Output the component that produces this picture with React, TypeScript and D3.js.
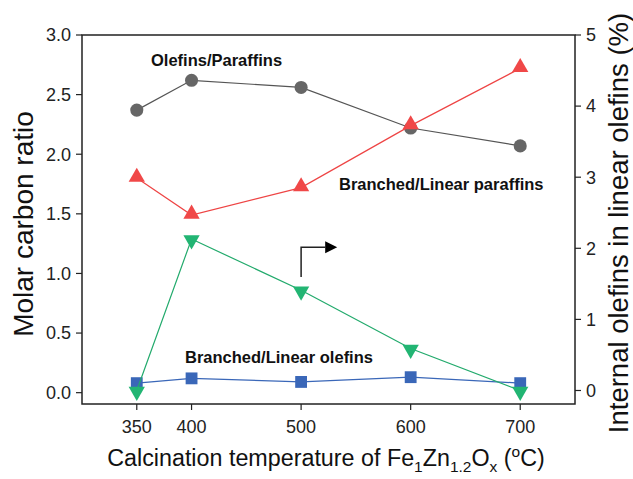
import React, { useEffect } from 'react';
import * as d3 from 'd3';

const temps = [350, 400, 500, 600, 700];
const olefinParaffin = [2.37, 2.62, 2.56, 2.22, 2.07];
const branchedParaffin = [1.8, 1.49, 1.72, 2.24, 2.72];
const branchedOlefin = [0.08, 0.12, 0.09, 0.13, 0.08];
const internalOlefin = [0.0, 2.13, 1.41, 0.59, 0.0];

const xTicks = [350, 400, 500, 600, 700];
const leftTicks = [0, 0.5, 1.0, 1.5, 2.0, 2.5, 3.0];
const rightTicks = [0, 1, 2, 3, 4, 5];

// arrow annotation (x in °C, y in left-axis units)
const arrowPath = [
  [500, 0.97],
  [500, 1.22],
  [522, 1.22],
];

const W = 633;
const H = 479;
const m = { left: 82, right: 575, top: 35, bottom: 404 };
const font = 'Liberation Sans, Arial, sans-serif';

export default function App() {
  useEffect(() => {
    document.body.style.margin = '0';
  }, []);

  const x = d3.scaleLinear().domain([300, 750]).range([m.left, m.right]);
  const yL = d3.scaleLinear().domain([-0.095, 3.0]).range([m.bottom, m.top]);
  const yR = d3.scaleLinear().domain([-0.19, 5]).range([m.bottom, m.top]);

  const lineL = d3
    .line<number>()
    .x((_, i) => x(temps[i]))
    .y((d) => yL(d));
  const lineR = d3
    .line<number>()
    .x((_, i) => x(temps[i]))
    .y((d) => yR(d));

  const circle = d3.symbol().type(d3.symbolCircle).size(135)()!;
  const square = d3.symbol().type(d3.symbolSquare).size(140)()!;
  const tri = d3.symbol().type(d3.symbolTriangle).size(115)()!;

  const arrowLine = d3
    .line<number[]>()
    .x((d) => x(d[0]))
    .y((d) => yL(d[1]));
  const tip = arrowPath[arrowPath.length - 1];
  const tx = x(tip[0]);
  const ty = yL(tip[1]);

  return (
    <svg width={W} height={H} style={{ display: 'block', background: '#fff' }} fontFamily={font}>
      {/* frame */}
      <rect
        x={m.left}
        y={m.top}
        width={m.right - m.left}
        height={m.bottom - m.top}
        fill="none"
        stroke="#222"
        strokeWidth={1.5}
      />

      {/* x axis */}
      {xTicks.map((t) => (
        <g key={t} transform={`translate(${x(t)},${m.bottom})`}>
          <line y2={6} stroke="#222" strokeWidth={1.2} />
          <text y={29} textAnchor="middle" fontSize={18} fill="#222">
            {t}
          </text>
        </g>
      ))}

      {/* left axis */}
      {leftTicks.map((t) => (
        <g key={t} transform={`translate(${m.left},${yL(t)})`}>
          <line x2={-6} stroke="#222" strokeWidth={1.2} />
          <text x={-11} dy="0.35em" textAnchor="end" fontSize={18} fill="#222">
            {t.toFixed(1)}
          </text>
        </g>
      ))}

      {/* right axis */}
      {rightTicks.map((t) => (
        <g key={t} transform={`translate(${m.right},${yR(t)})`}>
          <line x2={6} stroke="#222" strokeWidth={1.2} />
          <text x={11} dy="0.35em" textAnchor="start" fontSize={18} fill="#222">
            {t}
          </text>
        </g>
      ))}

      {/* axis titles */}
      <text
        transform={`translate(33,224) rotate(-90)`}
        textAnchor="middle"
        fontSize={28}
        fill="#111"
      >
        Molar carbon ratio
      </text>
      <text
        transform={`translate(628,223) rotate(-90)`}
        textAnchor="middle"
        fontSize={27.5}
        fill="#111"
      >
        Internal olefins in linear olefins (%)
      </text>
      <text x={326} y={466} textAnchor="middle" fontSize={23.3} fill="#111">
        Calcination temperature of Fe
        <tspan fontSize={15.5} dy={6}>1</tspan>
        <tspan dy={-6}>Zn</tspan>
        <tspan fontSize={15.5} dy={6}>1.2</tspan>
        <tspan dy={-6}>O</tspan>
        <tspan fontSize={15.5} dy={6}>x</tspan>
        <tspan dy={-6}> (</tspan>
        <tspan fontSize={15.5} dy={-9}>o</tspan>
        <tspan dy={9}>C)</tspan>
      </text>

      {/* series */}
      <path d={lineL(olefinParaffin)!} fill="none" stroke="#555" strokeWidth={1.2} />
      {olefinParaffin.map((v, i) => (
        <path key={i} d={circle} transform={`translate(${x(temps[i])},${yL(v)})`} fill="#666" />
      ))}

      <path d={lineL(branchedOlefin)!} fill="none" stroke="#3a67b8" strokeWidth={1.2} />
      {branchedOlefin.map((v, i) => (
        <path key={i} d={square} transform={`translate(${x(temps[i])},${yL(v)})`} fill="#3a67b8" />
      ))}

      <path d={lineR(internalOlefin)!} fill="none" stroke="#22aa6c" strokeWidth={1.2} />
      {internalOlefin.map((v, i) => (
        <path
          key={i}
          d={tri}
          transform={`translate(${x(temps[i])},${yR(v) + 1}) rotate(180)`}
          fill="#22b573"
        />
      ))}

      <path d={lineL(branchedParaffin)!} fill="none" stroke="#ee4444" strokeWidth={1.2} />
      {branchedParaffin.map((v, i) => (
        <path
          key={i}
          d={tri}
          transform={`translate(${x(temps[i])},${yL(v) - 1})`}
          fill="#f04848"
        />
      ))}

      {/* arrow annotation */}
      <path d={arrowLine(arrowPath)!} fill="none" stroke="#222" strokeWidth={1.5} />
      <path d={`M${tx},${ty - 6}L${tx + 12},${ty}L${tx},${ty + 6}Z`} fill="#000" />

      {/* labels */}
      <g fontWeight="bold" fontSize={16.5} fill="#111">
        <text x={151} y={66}>Olefins/Paraffins</text>
        <text x={339} y={190}>Branched/Linear paraffins</text>
        <text x={185} y={363}>Branched/Linear olefins</text>
      </g>
    </svg>
  );
}
